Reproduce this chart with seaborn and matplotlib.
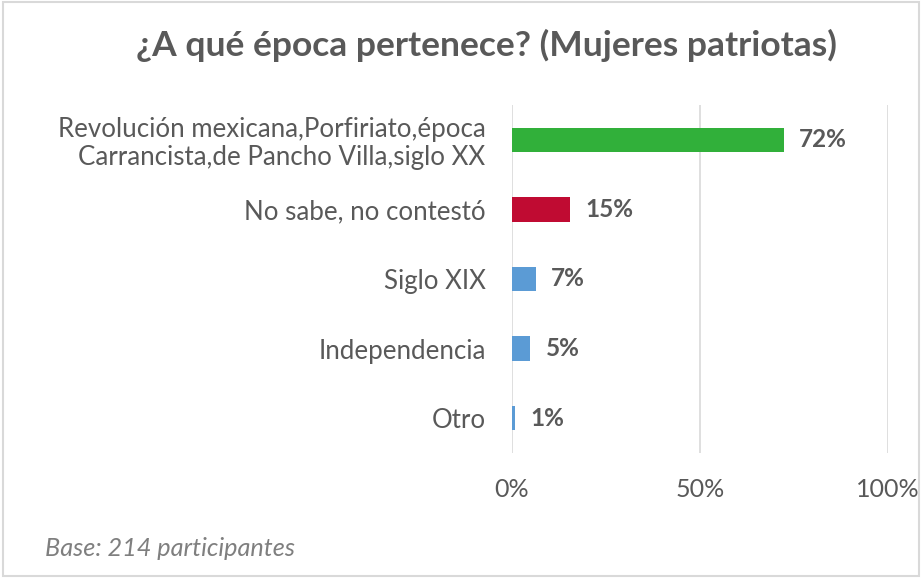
import matplotlib
matplotlib.use("Agg")
import matplotlib.pyplot as plt
import seaborn as sns
import pandas as pd

categorias = [
    "Revolución mexicana,Porfiriato,época\nCarrancista,de Pancho Villa,siglo XX",
    "No sabe, no contestó",
    "Siglo XIX",
    "Independencia",
    "Otro",
]
valores = [72.4, 15.4, 6.4, 4.9, 0.8]
etiquetas = ["72%", "15%", "7%", "5%", "1%"]
colores = ["#31b03a", "#c00b32", "#5b9bd5", "#5b9bd5", "#5b9bd5"]

sns.set_style("white")
plt.rcParams["font.family"] = ["Lato", "DejaVu Sans"]
gris = "#595959"

df = pd.DataFrame({"categoria": categorias, "valor": valores})

fig = plt.figure(figsize=(9.22, 5.78), dpi=100)
ax = fig.add_axes([512 / 922, 1 - 453 / 578, 376 / 922, 348 / 578])

sns.barplot(data=df, x="valor", y="categoria", hue="categoria",
            palette=colores, legend=False, width=0.35, ax=ax, saturation=1,
            linewidth=0)

for i, (v, t) in enumerate(zip(valores, etiquetas)):
    ax.text(v + 4, i, t, va="center", ha="left", fontsize=17.5,
            fontweight="bold", color=gris)

ax.set_xlim(0, 100)
ax.set_ylim(4.5, -0.5)
ax.set_xticks([0, 50, 100])
ax.set_xticklabels(["0%", "50%", "100%"])
ax.grid(axis="x", color="#d9d9d9", linewidth=1.2)
ax.set_axisbelow(True)
ax.set_xlabel("")
ax.set_ylabel("")
for s in ax.spines.values():
    s.set_visible(False)
ax.tick_params(axis="both", length=0, labelsize=18, colors=gris)
ax.tick_params(axis="y", labelsize=18.6, pad=19)
ax.tick_params(axis="x", pad=18)
for lbl in ax.get_yticklabels():
    lbl.set_linespacing(1.15)

fig.text(0.528, 1 - 45 / 578, "¿A qué época pertenece? (Mujeres patriotas)",
         ha="center", va="center", fontsize=25.5, fontweight="bold", color=gris)
fig.text(45 / 922, 1 - 548 / 578, "Base: 214 participantes", ha="left",
         va="center", fontsize=18.2, style="italic", color="#7f7f7f")

borde = plt.Rectangle((0.003, 0.003), 0.994, 0.994, transform=fig.transFigure,
                      fill=False, edgecolor="#d9d9d9", linewidth=1.5)
fig.patches.append(borde)

fig.savefig("out.png", dpi=100)
